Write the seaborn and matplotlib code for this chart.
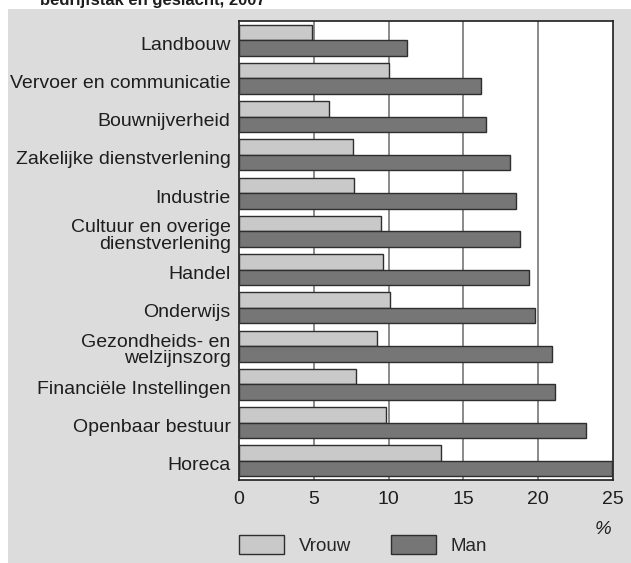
import matplotlib
matplotlib.use("Agg")
import matplotlib.pyplot as plt
import matplotlib.transforms as mtransforms
from matplotlib.patches import Rectangle
import seaborn as sns
import pandas as pd

# data (% per sector)
sectors = ['Landbouw', 'Vervoer en communicatie', 'Bouwnijverheid',
           'Zakelijke dienstverlening', 'Industrie',
           'Cultuur en overige\ndienstverlening', 'Handel', 'Onderwijs',
           'Gezondheids- en\nwelzijnszorg', 'Financiële Instellingen',
           'Openbaar bestuur', 'Horeca']
vrouw = [4.9, 10.0, 6.0, 7.6, 7.7, 9.5, 9.6, 10.1, 9.2, 7.8, 9.8, 13.5]
man = [11.2, 16.2, 16.5, 18.1, 18.5, 18.8, 19.4, 19.8, 20.9, 21.1, 23.2, 24.9]
x_ticks = [0, 5, 10, 15, 20, 25]

df = pd.DataFrame({
    'sector': sectors * 2,
    'pct': vrouw + man,
    'geslacht': ['Vrouw'] * len(sectors) + ['Man'] * len(sectors),
})

sns.set_style('white')
plt.rcParams['font.family'] = ['Liberation Sans', 'DejaVu Sans']

fig = plt.figure(figsize=(6.31, 5.63), dpi=100)
fig.patch.set_facecolor('white')
# grey panel behind the chart
fig.patches.append(Rectangle((8 / 631, 0), 1, 1 - 9 / 563, transform=fig.transFigure,
                             facecolor='#dcdcdd', edgecolor='none', zorder=-10))

ax = fig.add_axes([239 / 631, 1 - 480 / 563, 374 / 631, 459 / 563])
sns.barplot(data=df, y='sector', x='pct', hue='geslacht', orient='h',
            palette={'Vrouw': '#c9c9ca', 'Man': '#767677'},
            edgecolor='#2e2e2e', linewidth=1.0, width=0.81, ax=ax, zorder=3)

ax.set_xlim(0, 25)
ax.set_ylim(11.5, -0.5)
ax.set_xticks(x_ticks)
ax.set_xlabel('')
ax.set_ylabel('')
ax.set_facecolor('white')
for x in x_ticks[1:-1]:
    ax.axvline(x, color='#8a8a8a', lw=1.4, zorder=1)
for s in ax.spines.values():
    s.set_color('#1e1e1e')
    s.set_linewidth(1.2)
ax.tick_params(axis='both', length=0, labelsize=14, colors='#1e1e1e')
ax.tick_params(axis='y', pad=6)
ax.tick_params(axis='x', pad=8)

# sector labels sit a little below the bar pair centre in the original
shift = mtransforms.ScaledTranslation(0, -3 / 100, fig.dpi_scale_trans)
for lab in ax.get_yticklabels():
    lab.set_horizontalalignment('right')
    lab.set_multialignment('right')
    lab.set_linespacing(0.95)
    lab.set_transform(lab.get_transform() + shift)

handles, labels = ax.get_legend_handles_labels()
ax.get_legend().remove()
fig.legend(handles, labels, loc='lower left', bbox_to_anchor=(239 / 631, 8 / 563),
           ncol=2, frameon=False, fontsize=13.5, handlelength=2.4, handleheight=1.23,
           handletextpad=0.8, columnspacing=2.1, borderpad=0, borderaxespad=0)

fig.text(603 / 631, 1 - 530 / 563, '%', style='italic', fontsize=13.5,
         ha='center', va='center', color='#1e1e1e')
fig.text(40 / 631, 1 - 5 / 563, 'bedrijfstak en geslacht, 2007', fontweight='bold',
         fontsize=12, ha='left', va='baseline', color='#1e1e1e')

fig.savefig('out.png', dpi=100)
